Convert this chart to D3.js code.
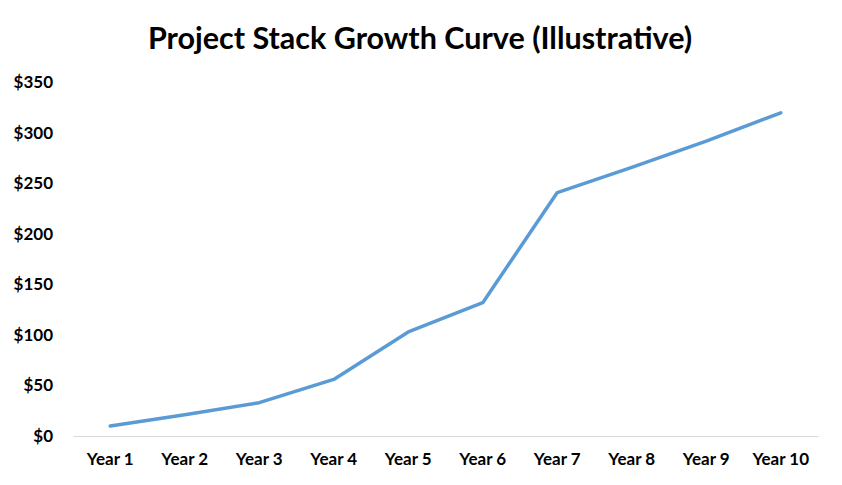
<!DOCTYPE html>
<html>
<head>
<meta charset="utf-8">
<script src="https://cdn.jsdelivr.net/npm/d3@7"></script>
<style>
  body { margin: 0; background: #fff; }
  text { font-family: Lato, "Open Sans", sans-serif; font-weight: bold; fill: #000; }
</style>
</head>
<body>
<div id="chart"></div>
<script>
// chart data
var years = ['Year 1', 'Year 2', 'Year 3', 'Year 4', 'Year 5', 'Year 6', 'Year 7', 'Year 8', 'Year 9', 'Year 10'];
var stackValues = [10, 21, 33, 56, 103, 132, 241, 266, 292, 320];
var yTicks = [0, 50, 100, 150, 200, 250, 300, 350];
var chartTitle = 'Project Stack Growth Curve (Illustrative)';

var W = 842, H = 485;
var m = { top: 82.5, right: 24, bottom: 49, left: 73 };
var w = W - m.left - m.right;
var h = H - m.top - m.bottom;

var svg = d3.select('#chart').append('svg')
  .attr('width', W)
  .attr('height', H);

svg.append('text')
  .attr('x', 420)
  .attr('y', 49)
  .attr('text-anchor', 'middle')
  .style('font-size', '30.5px')
  .text(chartTitle);

var g = svg.append('g')
  .attr('transform', 'translate(' + m.left + ',' + m.top + ')');

var x = d3.scaleBand().domain(years).range([0, w]);
var y = d3.scaleLinear().domain([0, 350]).range([h, 0]);

// y axis labels only, no line
var yAxis = d3.axisLeft(y).tickValues(yTicks).tickSize(0).tickPadding(20)
  .tickFormat(function(d) { return '$' + d; });
var yg = g.append('g').call(yAxis);
yg.select('.domain').remove();
yg.selectAll('text').style('font-size', '17px').attr('font-family', null);

// x axis
var xAxis = d3.axisBottom(x).tickSize(0).tickPadding(17);
var xg = g.append('g')
  .attr('transform', 'translate(0,' + h + ')')
  .call(xAxis);
xg.select('.domain').attr('stroke', '#d9d9d9').attr('stroke-width', 1);
xg.selectAll('text').style('font-size', '17px').attr('font-family', null);

var line = d3.line()
  .x(function(d, i) { return x(years[i]) + x.bandwidth() / 2; })
  .y(function(d) { return y(d); });

g.append('path')
  .datum(stackValues)
  .attr('fill', 'none')
  .attr('stroke', '#5b9bd5')
  .attr('stroke-width', 3.5)
  .attr('stroke-linejoin', 'round')
  .attr('stroke-linecap', 'round')
  .attr('d', line);
</script>
</body>
</html>
